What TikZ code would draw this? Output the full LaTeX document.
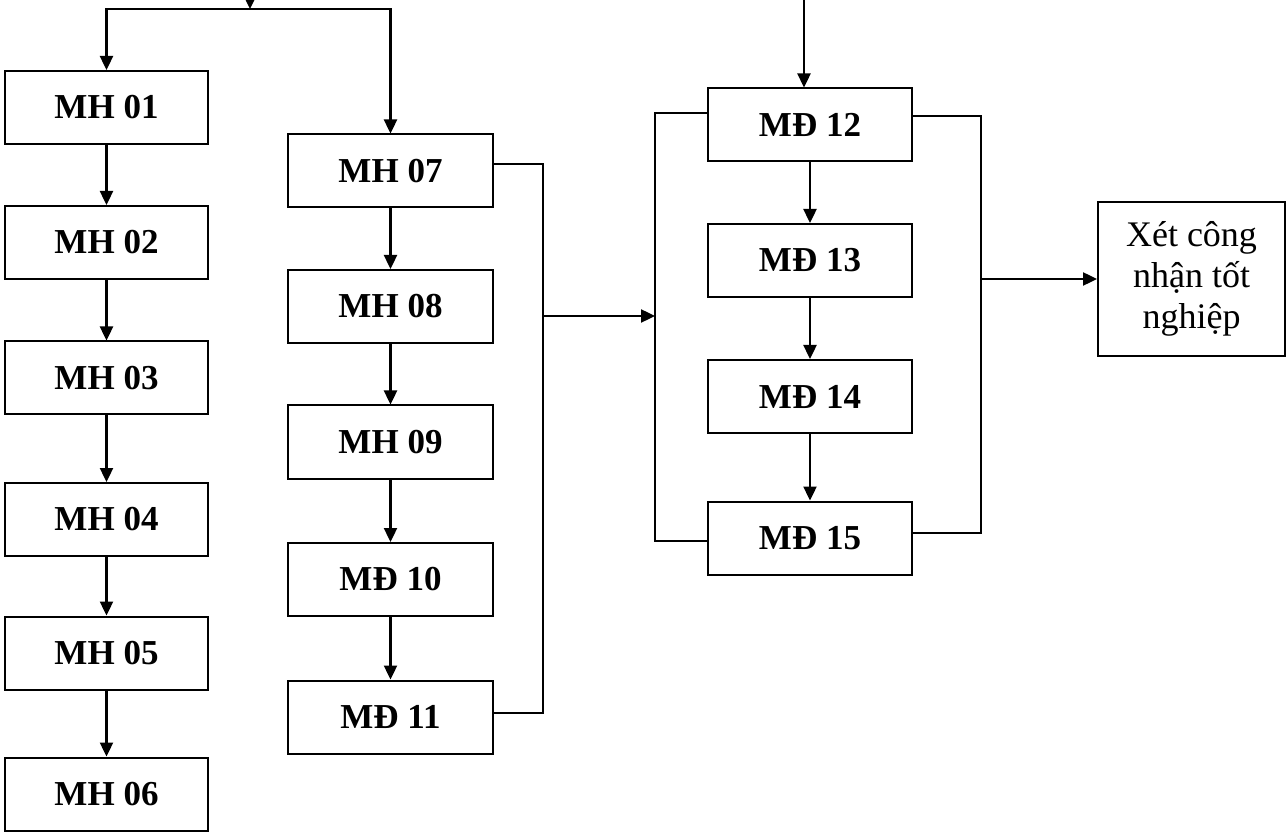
\documentclass[tikz,border=0pt]{standalone}
\usepackage{fontspec}
\setmainfont{Liberation Serif}
\usetikzlibrary{arrows.meta}
\begin{document}
\begin{tikzpicture}[x=1pt,y=-1pt,
  box/.style={draw, line width=2pt, minimum width=203pt, minimum height=73pt,
    inner sep=0pt, font=\fontsize{35}{40}\selectfont\bfseries},
  finbox/.style={draw, line width=2pt, minimum width=187pt, minimum height=154pt,
    inner sep=0pt, align=center, font=\fontsize{36}{41}\selectfont},
  arr/.style={line width=2.4pt, -{Triangle[length=14pt,width=13pt]}},
  wire/.style={line width=1.8pt}]
\useasboundingbox (0,0) rectangle (1286,834);
\clip (0,0) rectangle (1286,834);

% first column
\node[box] (mh01) at (106.5,107.5) {MH 01};
\node[box] (mh02) at (106.5,242.5) {MH 02};
\node[box] (mh03) at (106.5,378)   {MH 03};
\node[box] (mh04) at (106.5,519.5) {MH 04};
\node[box] (mh05) at (106.5,653)   {MH 05};
\node[box] (mh06) at (106.5,794)   {MH 06};

% second column
\node[box, minimum width=205pt] (mh07) at (390.5,171)   {MH 07};
\node[box, minimum width=205pt] (mh08) at (390.5,306.5) {MH 08};
\node[box, minimum width=205pt] (mh09) at (390.5,442)   {MH 09};
\node[box, minimum width=205pt] (md10) at (390.5,579.5) {MĐ 10};
\node[box, minimum width=205pt] (md11) at (390.5,717)   {MĐ 11};

% third column
\node[box, minimum width=204pt] (md12) at (810,125)   {MĐ 12};
\node[box, minimum width=204pt] (md13) at (810,260.5) {MĐ 13};
\node[box, minimum width=204pt] (md14) at (810,396.5) {MĐ 14};
\node[box, minimum width=204pt] (md15) at (810,538)   {MĐ 15};

% final step
\node[finbox] (fin) at (1191.5,279) {Xét công\\nhận tốt\\nghiệp};

% junction points
\coordinate (insrc) at (250,-30);
\coordinate (split) at (250,9);
\coordinate (rsrc) at (804,-30);
\coordinate (bl) at (543,316);
\coordinate (br) at (655,316);
\coordinate (cr) at (981,279);

% entry and split
\draw[arr] (insrc) -- (split);
\draw[arr] (split) -| (mh01.north);
\draw[arr] (split) -| (mh07.north);
\draw[arr] (rsrc) -- (md12.north -| rsrc);

% column chains
\draw[arr] (mh01) -- (mh02);
\draw[arr] (mh02) -- (mh03);
\draw[arr] (mh03) -- (mh04);
\draw[arr] (mh04) -- (mh05);
\draw[arr] (mh05) -- (mh06);
\draw[arr] (mh07) -- (mh08);
\draw[arr] (mh08) -- (mh09);
\draw[arr] (mh09) -- (md10);
\draw[arr] (md10) -- (md11);
\draw[arr] (md12) -- (md13);
\draw[arr] (md13) -- (md14);
\draw[arr] (md14) -- (md15);

% brackets
\draw[wire] ([yshift=7pt]mh07.east) -| (bl) |- ([yshift=4pt]md11.east);
\draw[arr] (bl) -- (br);
\draw[wire] ([yshift=12pt]md12.west) -| (br) |- ([yshift=-3pt]md15.west);
\draw[wire] ([yshift=9pt]md12.east) -| (cr) |- ([yshift=5pt]md15.east);
\draw[arr] (cr) -- (fin.west);
\end{tikzpicture}
\end{document}
